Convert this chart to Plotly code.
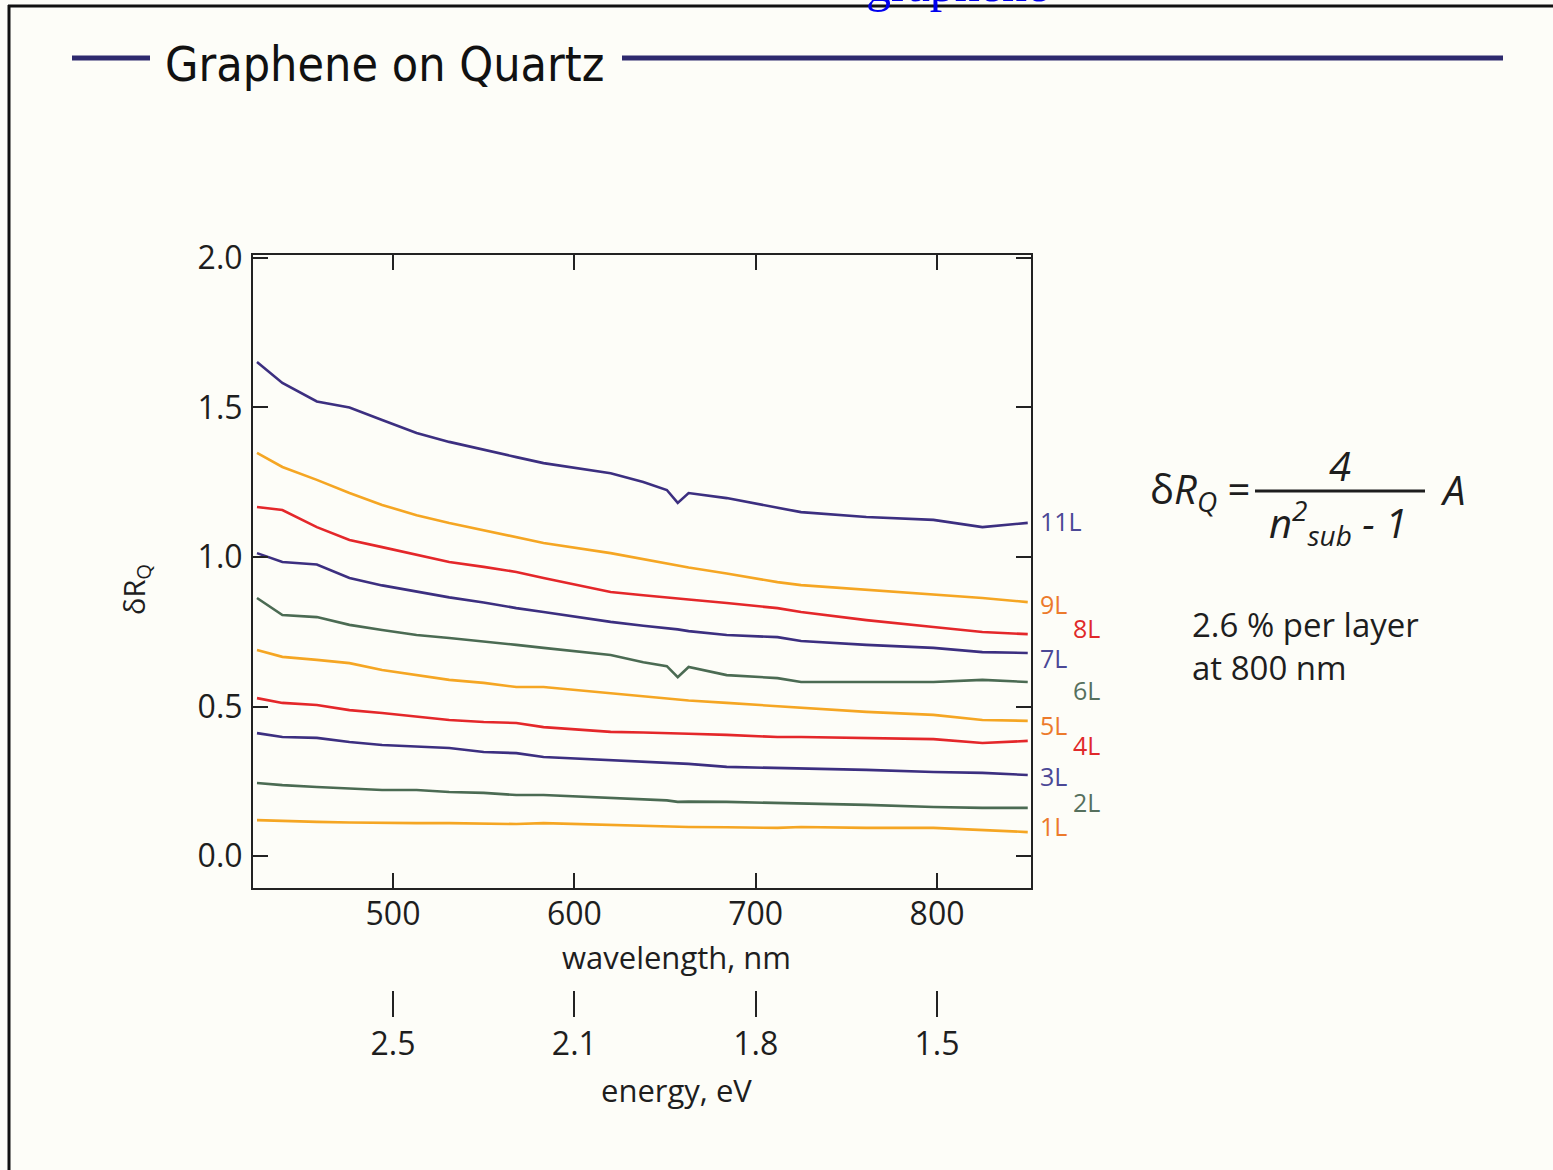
import plotly.graph_objects as go

W, H = 1553, 1170

# ---------------- data ----------------
wavelength = [425, 439, 458, 476, 494, 513, 531, 550, 568, 583, 620,
              638, 651, 657, 663, 684, 712, 725, 761, 798, 825, 850]

dr_1L = [0.120, 0.117, 0.114, 0.112, 0.110, 0.110, 0.110, 0.108, 0.107, 0.110, 0.104,
         0.101, 0.098, 0.097, 0.097, 0.096, 0.094, 0.097, 0.094, 0.094, 0.087, 0.080]
dr_2L = [0.244, 0.237, 0.231, 0.227, 0.221, 0.221, 0.214, 0.211, 0.204, 0.204, 0.194,
         0.190, 0.186, 0.181, 0.182, 0.181, 0.177, 0.177, 0.171, 0.164, 0.161, 0.161]
dr_3L = [0.411, 0.398, 0.395, 0.381, 0.371, 0.365, 0.361, 0.348, 0.344, 0.331, 0.321,
         0.317, 0.313, 0.311, 0.308, 0.298, 0.294, 0.294, 0.288, 0.281, 0.278, 0.271]
dr_4L = [0.528, 0.512, 0.505, 0.488, 0.478, 0.465, 0.455, 0.448, 0.445, 0.431, 0.415,
         0.413, 0.412, 0.411, 0.409, 0.405, 0.398, 0.398, 0.395, 0.391, 0.378, 0.385]
dr_5L = [0.689, 0.666, 0.656, 0.645, 0.622, 0.605, 0.589, 0.579, 0.565, 0.565, 0.545,
         0.535, 0.528, 0.524, 0.520, 0.512, 0.502, 0.495, 0.482, 0.472, 0.455, 0.452]
dr_6L = [0.863, 0.806, 0.799, 0.773, 0.756, 0.739, 0.729, 0.716, 0.706, 0.696, 0.672,
         0.648, 0.635, 0.598, 0.632, 0.605, 0.595, 0.582, 0.582, 0.582, 0.589, 0.582]
dr_7L = [1.013, 0.983, 0.975, 0.930, 0.905, 0.885, 0.865, 0.848, 0.829, 0.816, 0.783,
         0.770, 0.762, 0.758, 0.752, 0.739, 0.732, 0.719, 0.706, 0.696, 0.682, 0.679]
dr_8L = [1.167, 1.157, 1.100, 1.057, 1.033, 1.007, 0.983, 0.967, 0.950, 0.930, 0.883,
         0.872, 0.866, 0.863, 0.858, 0.846, 0.829, 0.816, 0.789, 0.766, 0.749, 0.742]
dr_9L = [1.348, 1.301, 1.258, 1.214, 1.174, 1.140, 1.114, 1.090, 1.067, 1.047, 1.013,
         0.992, 0.978, 0.972, 0.965, 0.945, 0.916, 0.906, 0.890, 0.873, 0.863, 0.849]
dr_11L = [1.652, 1.582, 1.520, 1.500, 1.458, 1.415, 1.385, 1.358, 1.334, 1.314, 1.280,
          1.251, 1.224, 1.181, 1.214, 1.197, 1.164, 1.150, 1.134, 1.124, 1.100, 1.114]

layer_names = ["1L", "2L", "3L", "4L", "5L", "6L", "7L", "8L", "9L", "11L"]
layer_values = [dr_1L, dr_2L, dr_3L, dr_4L, dr_5L, dr_6L, dr_7L, dr_8L, dr_9L, dr_11L]

wl_ticks = [500, 600, 700, 800]
energy_tick_labels = ["2.5", "2.1", "1.8", "1.5"]
y_ticks = [0.0, 0.5, 1.0, 1.5, 2.0]

# ---------------- styles ----------------
ORANGE, GREEN, PURPLE, RED = "#f5a623", "#4b6b53", "#3c2f80", "#e4272a"
line_colors = [ORANGE, GREEN, PURPLE, RED, ORANGE, GREEN, PURPLE, RED, ORANGE, PURPLE]
LBL_OR, LBL_GR, LBL_PU, LBL_RE = "#ec7a2c", "#56705d", "#4b4896", "#e0292a"
label_colors = [LBL_OR, LBL_GR, LBL_PU, LBL_RE, LBL_OR, LBL_GR, LBL_PU, LBL_RE, LBL_OR, LBL_PU]
# label placement in pixels (left x, centre y)
label_pos = [(1038, 826), (1071, 802), (1038, 776), (1071, 745), (1038, 725),
             (1071, 690), (1038, 658), (1071, 628), (1038, 604), (1038, 521)]

FONT = "Open Sans"
TXT = "#1e1e1e"
BG = "#fdfdf8"


def px(x):
    return x / W


def py(y):
    return 1 - y / H


fig = go.Figure()
for name, vals, col in zip(layer_names, layer_values, line_colors):
    fig.add_trace(go.Scatter(x=wavelength, y=vals, mode="lines", name=name,
                             line=dict(color=col, width=2.6), showlegend=False,
                             hoverinfo="skip"))
# carrier trace for the energy axis
fig.add_trace(go.Scatter(x=[wl_ticks[0]], y=[None], xaxis="x2", yaxis="y",
                         mode="lines", showlegend=False, hoverinfo="skip"))

x_range = [422.8, 851.8]
x_dom = [px(253), px(1031)]


def note(text, x, y, size, color=TXT, family=FONT, xanchor="center", **kw):
    return dict(text=text, x=px(x), y=py(y), xref="paper", yref="paper",
                xanchor=xanchor, yanchor="middle", showarrow=False,
                font=dict(family=family, size=size, color=color), **kw)


annotations = []
for name, (lx, ly), col in zip(layer_names, label_pos, label_colors):
    annotations.append(note(name, lx, ly, 25, color=col, xanchor="left"))

annotations += [
    note("Graphene on Quartz", 163, 64, 48, color="#111111",
         family="DejaVu Sans Condensed, " + FONT, xanchor="left"),
    note("δR<sub>Q</sub>", 135, 590, 29, textangle=-90),
    note("wavelength, nm", 676, 957, 31),
    note("energy, eV", 676, 1090, 31),
    note("δ<i>R</i><sub><i>Q</i></sub> =", 1148, 490, 40, xanchor="left"),
    note("<i>4</i>", 1340, 466, 40),
    note("<i>n<sup>2</sup><sub>sub</sub> - 1</i>", 1338, 522, 40),
    note("<i>A</i>", 1452, 489, 40),
    note("2.6 % per layer<br>at 800 nm", 1190, 646, 33, xanchor="left", align="left"),
]

shapes = [
    dict(type="line", xref="paper", yref="paper", x0=px(72), x1=px(150), y0=py(58), y1=py(58),
         line=dict(color="#2e2a6e", width=5)),
    dict(type="line", xref="paper", yref="paper", x0=px(622), x1=px(1503), y0=py(58), y1=py(58),
         line=dict(color="#2e2a6e", width=5)),
    dict(type="line", xref="paper", yref="paper", x0=px(1255), x1=px(1425), y0=py(491), y1=py(491),
         line=dict(color=TXT, width=3)),
    dict(type="line", xref="paper", yref="paper", x0=px(9), x1=px(9), y0=py(5), y1=0,
         line=dict(color="#111111", width=3)),
    dict(type="line", xref="paper", yref="paper", x0=px(8), x1=1, y0=py(6), y1=py(6),
         line=dict(color="#111111", width=3)),
]

axis_common = dict(showgrid=False, zeroline=False, showline=True, linewidth=2,
                   linecolor="#222222", ticks="inside", ticklen=15, tickwidth=2,
                   tickcolor="#222222", mirror="ticks",
                   tickfont=dict(family=FONT, size=32, color=TXT))

fig.update_layout(
    width=W, height=H, autosize=False,
    margin=dict(l=0, r=0, t=0, b=0, autoexpand=False),
    paper_bgcolor=BG, plot_bgcolor=BG,
    # partially hidden link text at the very top edge of the slide
    title=dict(text="graphene", x=px(866), xref="container", xanchor="left",
               y=py(1), yref="container", yanchor="bottom",
               font=dict(family="Liberation Serif", size=50, color="#0000ee")),
    xaxis=dict(domain=x_dom, range=x_range, tickvals=wl_ticks, ticklabelstandoff=-3,
               **axis_common),
    yaxis=dict(domain=[py(888), py(255)], range=[-0.107, 2.01], tickvals=y_ticks,
               tickformat=".1f", ticklabelstandoff=2, **axis_common),
    xaxis2=dict(overlaying="x", anchor="free", position=py(990), side="bottom",
                range=x_range, tickvals=wl_ticks, ticktext=energy_tick_labels,
                showline=False, showgrid=False, zeroline=False,
                ticks="outside", ticklen=26, tickwidth=2, tickcolor="#222222",
                ticklabelstandoff=0,
                tickfont=dict(family=FONT, size=32, color=TXT)),
    annotations=annotations,
    shapes=shapes,
)

fig.write_html("out.html")
